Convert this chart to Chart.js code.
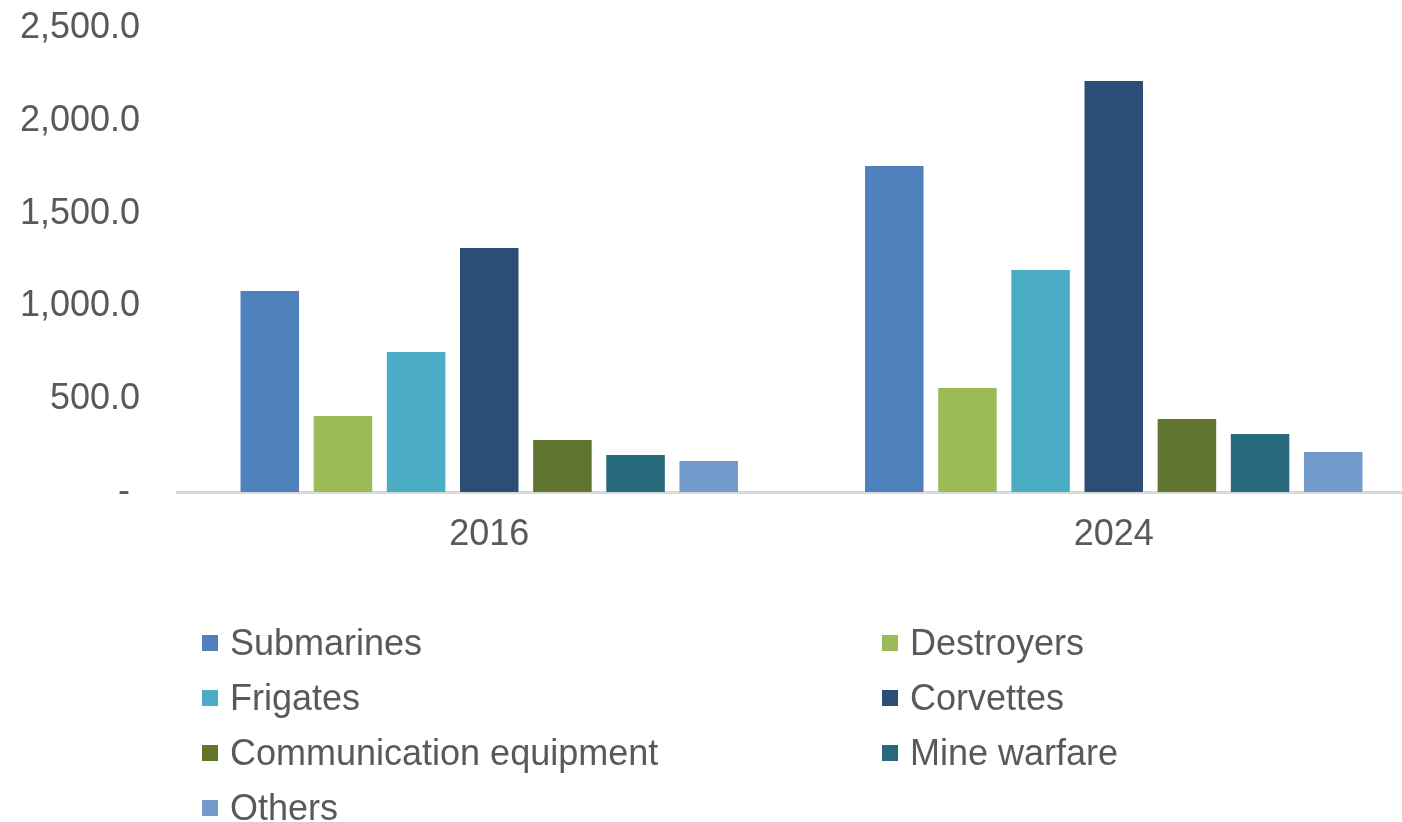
<!DOCTYPE html>
<html>
<head>
<meta charset="utf-8">
<script src="https://cdn.jsdelivr.net/npm/chart.js@4/dist/chart.umd.min.js"></script>
<style>
  html, body { margin: 0; padding: 0; background: #fff; overflow: hidden; }
  #wrap { position: relative; width: 1402px; height: 822px; overflow: hidden; }
  #chart { position: absolute; left: 0; top: 0; }
  #legend { position: absolute; left: 0; top: 615px; font-family: "Liberation Sans", Arial, sans-serif; font-size: 36px; color: #595959; }
  .item { position: absolute; height: 55px; line-height: 55px; white-space: nowrap; display: flex; align-items: center; }
  .box { width: 16px; height: 16px; margin-right: 12px; }
</style>
</head>
<body>
<div id="wrap">
  <canvas id="chart" width="1426" height="822"></canvas>
  <div id="legend"></div>
</div>
<script>
/* ================= DATA ================= */
const categories = ["2016", "2024"];
const seriesNames = ["Submarines", "Destroyers", "Frigates", "Corvettes", "Communication equipment", "Mine warfare", "Others"];
const submarines = [1083, 1756];
const destroyers = [409, 560];
const frigates = [754, 1196];
const corvettes = [1315, 2214];
const communication = [280, 393];
const mineWarfare = [199, 312];
const others = [167, 216];
const yTicks = [0, 500, 1000, 1500, 2000, 2500];

const seriesValues = [submarines, destroyers, frigates, corvettes, communication, mineWarfare, others];
const colors = ["#4F81BD", "#9BBB59", "#4BACC6", "#2C4D75", "#5F7530", "#276A7C", "#729ACA"];

const FONT = "'Liberation Sans', Arial, sans-serif";
const TEXT = "#595959";

/* ================= CHART ================= */
new Chart(document.getElementById("chart"), {
  type: "bar",
  data: {
    labels: categories,
    datasets: seriesNames.map((name, i) => ({
      label: name,
      data: seriesValues[i],
      backgroundColor: colors[i],
      categoryPercentage: 0.82,
      barPercentage: 0.8
    }))
  },
  options: {
    responsive: false,
    animation: false,
    layout: { padding: { top: 28, left: 0, right: 0, bottom: 0 } },
    plugins: {
      legend: { display: false },
      tooltip: { enabled: false }
    },
    scales: {
      x: {
        grid: { display: false, drawTicks: false },
        border: { display: true, color: "#D9D9D9", width: 3 },
        ticks: { color: TEXT, font: { family: FONT, size: 36 }, padding: 21 },
        afterFit: scale => { scale.height = 330; }
      },
      y: {
        min: 0,
        max: 2500,
        grid: { display: false, drawTicks: false },
        border: { display: false },
        afterBuildTicks: scale => { scale.ticks = yTicks.map(v => ({ value: v })); },
        afterFit: scale => {
          // fixed axis width; labels may overflow the top edge like the original
          scale.width = 177;
          scale.paddingTop = 0;
          scale.paddingBottom = 0;
        },
        ticks: {
          color: TEXT,
          font: { family: FONT, size: 36 },
          padding: 37,
          callback: v => v === 0 ? "- " : v.toLocaleString("en-US", { minimumFractionDigits: 1, maximumFractionDigits: 1 })
        }
      }
    }
  }
});

/* ================= LEGEND ================= */
const legend = document.getElementById("legend");
seriesNames.forEach((name, i) => {
  const item = document.createElement("div");
  item.className = "item";
  item.style.left = (i % 2 === 0 ? 202 : 882) + "px";
  item.style.top = Math.floor(i / 2) * 55 + "px";
  item.innerHTML = `<span class="box" style="background:${colors[i]}"></span><span>${name}</span>`;
  legend.appendChild(item);
});
</script>
</body>
</html>
